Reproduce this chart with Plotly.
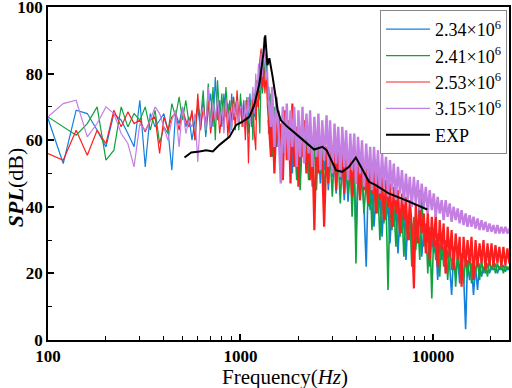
import plotly.graph_objects as go

# ---------------- data ----------------
FREQ_LOW = [100, 120, 140, 160, 180, 200, 220, 240, 260, 280,
            300, 320, 340, 360, 380, 400, 420, 440, 460, 480,
            500, 520, 540, 560, 580, 600, 620, 640, 660, 680,
            700, 720, 740, 760, 780, 800, 820, 840, 860, 880,
            900, 920, 940, 960, 980, 1000]
FREQ_MID = [1020, 1040, 1060, 1080, 1100, 1120, 1140, 1160, 1180, 1200,
            1220, 1240, 1260, 1280, 1300, 1320, 1340, 1360, 1380]
FREQ_HIGH = [1400, 1440, 1460, 1500, 1540, 1580, 1620, 1660, 1700, 1740,
             1780, 1820, 1860, 1900, 1960, 2000, 2040, 2100, 2140, 2200,
             2260, 2300, 2360, 2420, 2480, 2540, 2600, 2660, 2720, 2800,
             2860, 2920, 3000, 3080, 3140, 3220, 3300, 3380, 3460, 3540,
             3620, 3720, 3800, 3900, 3980, 4080, 4180, 4280, 4380, 4500,
             4600, 4720, 4820, 4940, 5060, 5180, 5300, 5440, 5560, 5700,
             5840, 5980, 6120, 6260, 6420, 6580, 6740, 6900, 7060, 7240,
             7400, 7580, 7760, 7960, 8140, 8340, 8540, 8740, 8960, 9180,
             9400, 9620, 9860, 10100, 10340, 10580, 10840, 11100, 11360, 11640,
             11920, 12220, 12500, 12800, 13120, 13440, 13760, 14080, 14420, 14780,
             15120, 15500, 15860, 16240, 16640, 17040, 17460, 17880, 18300, 18740,
             19200, 19660, 20140, 20620, 21120, 21620, 22140, 22680, 23220, 23780,
             24360, 24940]

BLUE_LOW = [66.5, 53, 69, 68, 63, 58, 68, 66, 62, 58,
            72, 52, 68, 64, 66, 68, 63, 51, 68, 65,
            70, 64, 67, 60, 66, 70, 63, 72, 61, 69,
            74, 64, 79, 66, 72, 64, 74, 67, 71, 62,
            74, 66, 70, 73, 64, 72]
BLUE_MID = [68, 72, 63, 70, 66, 74, 64, 71, 67, 78,
            70, 80, 72, 82, 75, 84, 80, 83, 76]
BLUE_HIGH = [76, 60, 72, 64, 58, 69, 53, 70, 60, 66,
             57, 68, 50, 66, 56, 64, 49, 63, 55, 62,
             50, 61, 46, 62, 52, 59, 47, 58, 51, 57,
             45, 58, 49, 56, 44, 55, 48, 54, 42, 53,
             41.5, 52, 46, 51, 32, 50, 44, 49, 40, 22,
             46, 39, 45, 34, 44, 38, 43, 31, 42, 36,
             41, 29, 40, 34, 39, 26, 38, 32, 37, 24,
             36, 30, 35, 27, 34, 31, 45, 25, 33, 28,
             32, 22, 31, 26, 30, 18, 29, 24, 28, 20,
             27, 22, 13.5, 26, 19, 25, 17, 24, 20, 3.2,
             24, 18, 23, 13.5, 22, 15, 23, 19, 22, 20,
             23, 20, 22, 21, 23, 20, 22, 21, 22.5, 20.5,
             22, 21]

GREEN_LOW = [67, 64, 61.5, 65, 70, 54, 57, 70, 64, 68,
             66, 70, 63, 69, 59, 64, 62, 71, 67, 73,
             66, 72, 65, 68, 60, 71, 66, 75, 62, 77,
             65, 76, 60, 78, 66, 74, 63, 76, 68, 72,
             64, 73, 67, 71, 63, 74]
GREEN_MID = [66, 71, 64, 73, 62, 69, 72, 60, 74, 66,
             78, 71, 62, 80, 74, 78, 82, 86, 80]
GREEN_HIGH = [62, 74, 55, 70, 60, 66, 52, 68, 58, 64,
              55, 67, 60, 63, 48, 65, 45, 62, 57, 60,
              48, 61, 54, 59, 45, 60, 50, 57, 44, 58,
              49, 56, 43, 57, 47, 55, 41, 54, 46, 52,
              44, 53, 37, 52, 23, 51, 42, 50, 38, 48,
              40, 47, 33, 46, 38, 45, 30, 44, 35, 43,
              15, 42, 33, 41, 28, 40, 31, 39, 25, 38,
              30, 38, 22, 37, 27, 36, 24, 45.5, 28, 35,
              20, 34, 12.5, 33, 24, 32, 19, 31, 22, 30,
              18, 29, 21, 28, 16, 27, 20, 26, 17, 25,
              19, 26, 17, 25, 20, 24, 18, 24, 20, 23,
              19, 24, 21, 23.5, 20, 23, 21, 23, 20, 22.5,
              21, 22]

RED_LOW = [56, 54, 63, 55.5, 63, 59, 69, 64, 68.5, 65,
           66, 62.5, 66, 67, 56, 67, 63, 67, 68, 63,
           69, 66, 64, 69, 60, 74, 63, 70, 65, 72,
           62, 69, 66, 71, 62, 68, 65, 72, 61, 70,
           66, 73, 63, 75, 67, 70]
RED_MID = [64, 70, 60, 72, 53, 70, 66, 73, 62, 57,
           78, 70, 84, 87.5, 76, 82, 74, 80, 70]
RED_HIGH = [66, 55, 71, 50, 68, 58, 65, 48, 69, 54,
            66, 47, 71, 52, 64, 46, 62, 55, 66, 50,
            62, 48, 60, 33, 61, 50, 59, 52, 34, 58,
            47, 60, 50, 58, 45, 57, 49, 56, 44, 57,
            48, 55, 43, 56, 47, 54, 42, 55, 45, 53,
            41, 52, 44, 51, 38, 50, 42, 49, 36, 48,
            40, 47, 34, 46, 38, 45, 32, 44, 36, 43,
            30, 42, 34, 15.5, 41, 29, 40, 32, 38, 26,
            39, 24, 37, 28, 38, 22, 36, 27, 35, 20,
            34, 25, 33, 21, 32, 24, 31, 16, 31, 22,
            30, 23, 31, 18, 30, 22, 29, 23, 30, 21,
            29, 22.5, 29, 22, 28.5, 23, 28, 22, 28, 22.5,
            27.5, 23]

PURPLE_LOW = [67, 71, 72, 61, 65, 70, 68, 62, 59, 52,
              65, 63, 66, 70, 68, 64, 60, 66, 69, 58,
              70, 62, 66, 64, 68, 53.5, 67, 70, 63, 76,
              64, 71, 66, 73, 65, 70, 62, 72, 66, 69,
              63, 71, 67, 72, 65, 70]
PURPLE_MID = [70, 64, 72, 67, 73, 65, 71, 76, 68, 80,
              72, 83, 75, 86, 79, 91, 84, 78, 82]
PURPLE_HIGH = [72, 64, 76, 58, 73, 62, 47, 70, 56, 71,
               54, 69, 58, 70, 52, 69, 55, 70, 53, 68,
               56, 69, 52, 67, 55, 68, 51, 66, 54, 67.5,
               52, 66, 50, 65, 53, 64, 49, 64, 52, 63,
               48, 62, 51, 62, 47, 61, 50, 60, 46, 59,
               48, 58, 45, 58, 47, 57, 44, 56, 46, 55,
               43, 54, 45, 53, 42, 52, 44, 51, 41, 50,
               42, 49, 40, 49, 41, 48, 39, 47, 40, 46,
               38, 45, 39, 44, 37, 43, 38, 42, 36, 42,
               37, 41, 35.5, 40, 36, 39.5, 35, 39, 34.5, 38,
               34, 37.5, 34, 37, 33.5, 36.5, 33, 36, 33, 35.5,
               32.5, 35, 32.5, 34.5, 32, 34.5, 32, 34, 32, 34,
               32, 33.5]

EXP_FREQ = [512, 555, 612, 664, 718, 778, 876, 950, 1026, 1112,
            1180, 1255, 1315, 1345, 1380, 1413, 1469, 1560, 1620, 1755,
            2023, 2415, 2668, 2800, 3134, 3376, 3662, 3974, 4225, 4654,
            5042, 5895, 7200, 8460, 9340]
EXP_SPL = [54.8, 56.3, 56.6, 57, 56.6, 58.6, 61, 64.6, 65.6, 67,
           70.6, 77, 86, 91.5, 82.5, 84.6, 79, 69, 66, 64,
           61, 57.2, 58, 57, 51, 50.5, 52, 54.8, 52, 47.5,
           46.5, 44, 42, 40.2, 39.2]

SERIES_NAMES = ["2.34×10<sup>6</sup>", "2.41×10<sup>6</sup>",
                "2.53×10<sup>6</sup>", "3.15×10<sup>6</sup>"]
SERIES_COLORS = ["#1480DC", "#10A23C", "#FF1E1E", "#C47FE2"]
HIGH_WIDTHS = [1.6, 1.6, 2.2, 2.4]

X_TICKS = [100, 1000, 10000]
X_MINOR = [200, 300, 400, 500, 600, 700, 800, 900,
           2000, 3000, 4000, 5000, 6000, 7000, 8000, 9000, 20000]
Y_TICKS = [0, 20, 40, 60, 80, 100]

# ---------------- figure ----------------
FREQ_LM = FREQ_LOW + FREQ_MID
series_lm = [BLUE_LOW + BLUE_MID, GREEN_LOW + GREEN_MID,
             RED_LOW + RED_MID, PURPLE_LOW + PURPLE_MID]
series_hi = [BLUE_HIGH, GREEN_HIGH, RED_HIGH, PURPLE_HIGH]

fig = go.Figure()
for i, (name, color) in enumerate(zip(SERIES_NAMES, SERIES_COLORS)):
    fig.add_trace(go.Scatter(x=FREQ_LM + FREQ_HIGH[:1], y=series_lm[i] + series_hi[i][:1],
                             mode="lines", name=name, legendgroup=name,
                             line=dict(color=color, width=1.2)))
    fig.add_trace(go.Scatter(x=FREQ_HIGH, y=series_hi[i], mode="lines", name=name,
                             legendgroup=name, showlegend=False,
                             line=dict(color=color, width=HIGH_WIDTHS[i])))
fig.add_trace(go.Scatter(x=EXP_FREQ, y=EXP_SPL, mode="lines", name="EXP",
                         line=dict(color="black", width=2)))

serif = "Liberation Serif, Times New Roman, serif"
fig.update_layout(
    width=512, height=388,
    margin=dict(l=48, r=3, t=7, b=48, autoexpand=False),
    paper_bgcolor="white", plot_bgcolor="white",
    font=dict(family=serif, color="black"),
    showlegend=True,
    legend=dict(x=0.9957, y=0.991, xanchor="right", yanchor="top",
                bgcolor="white", bordercolor="#888888", borderwidth=1,
                font=dict(family=serif, size=18, color="black"),
                itemwidth=44, tracegroupgap=0),
)
fig.update_xaxes(
    type="log", range=[2, 4.395], automargin=False,
    tickvals=X_TICKS, ticktext=[str(v) for v in X_TICKS],
    ticks="inside", ticklen=6, tickwidth=1.5, tickcolor="black",
    minor=dict(tickvals=X_MINOR, ticks="inside", ticklen=4, tickwidth=1.2, tickcolor="black"),
    showline=True, linecolor="black", linewidth=1.5, mirror=True,
    showgrid=False, zeroline=False, ticklabeloverflow="allow",
    tickfont=dict(family=serif, size=17, color="black", weight="bold"),
)
fig.update_yaxes(
    range=[0, 100], automargin=False,
    tickvals=Y_TICKS,
    ticks="inside", ticklen=6, tickwidth=1.5, tickcolor="black",
    minor=dict(dtick=10, ticks="inside", ticklen=4, tickwidth=1.2, tickcolor="black"),
    showline=True, linecolor="black", linewidth=1.5, mirror=True,
    showgrid=False, zeroline=False, ticklabeloverflow="allow",
    tickfont=dict(family=serif, size=17, color="black", weight="bold"),
)
fig.add_annotation(text="Frequency(<i>Hz</i>)", xref="paper", yref="paper",
                   x=0.514, y=-0.111, xanchor="center", yanchor="middle",
                   showarrow=False, font=dict(family=serif, size=21, color="black"))
fig.add_annotation(text="<b><i>SPL</i></b>(dB)", xref="paper", yref="paper",
                   x=-0.0716, y=0.459, xanchor="center", yanchor="middle",
                   textangle=-90, showarrow=False,
                   font=dict(family=serif, size=22, color="black"))

fig.write_html("out.html", config={"displayModeBar": False},
               post_script="document.body.style.margin='0';document.body.style.overflow='hidden';")
